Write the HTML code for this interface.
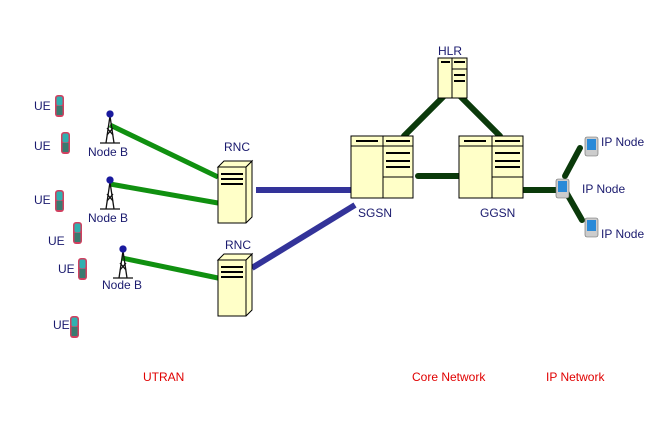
<!DOCTYPE html>
<html><head><style>
body{margin:0;background:#fff}
svg text{font-family:"Liberation Sans",sans-serif;font-size:12px;fill:#1a1a6e}
</style></head><body>
<svg width="653" height="427" viewBox="0 0 653 427" xmlns="http://www.w3.org/2000/svg">
<defs>
<g id="ue"><rect x="0" y="0" width="9" height="22" rx="3" fill="#d04060"/><rect x="1.5" y="1.5" width="6" height="9" rx="2" fill="#30b0b0"/><rect x="1.5" y="11" width="6" height="9" fill="#3a7a70"/></g>
<g id="tower" stroke="#111" fill="none" stroke-width="1.3"><line x1="-4" y1="33" x2="0" y2="6"/><line x1="4" y1="33" x2="0" y2="6"/><line x1="-3" y1="25" x2="3" y2="18"/><line x1="-3" y1="18" x2="3" y2="25"/><line x1="-10" y1="33" x2="10" y2="33"/><circle cx="0" cy="4" r="3" fill="#1a1a9e" stroke="#1a1a9e"/></g>
<g id="rnc"><polygon points="0,8 28,8 34,2 34,58 28,64 0,64" fill="#ffffc8" stroke="#000"/><polygon points="0,8 6,2 34,2 28,8" fill="#ffffc8" stroke="#000"/><line x1="28" y1="8" x2="28" y2="64" stroke="#000"/><rect x="3" y="14" width="22" height="2" fill="#000"/><rect x="3" y="19" width="22" height="2" fill="#000"/><rect x="3" y="24" width="22" height="2" fill="#000"/></g>
<g id="pda"><rect x="0" y="0" width="13" height="19" rx="2" fill="#ccc" stroke="#666" stroke-width=".6"/><rect x="2" y="2" width="9" height="11" fill="#2a8ad8"/></g>
</defs>
<g stroke="#109010" stroke-width="5"><line x1="110" y1="125" x2="218" y2="177"/><line x1="110" y1="184" x2="218" y2="203"/><line x1="122" y1="258" x2="218" y2="278"/></g>
<g stroke="#333399" stroke-width="6"><line x1="256" y1="190" x2="352" y2="190"/><line x1="252" y1="268" x2="355" y2="205"/></g>
<g stroke="#0b3a0b" stroke-width="6" stroke-linecap="round"><line x1="446" y1="94" x2="404" y2="136"/><line x1="458" y1="94" x2="500" y2="136"/><line x1="418" y1="176" x2="461" y2="176"/><line x1="522" y1="190" x2="556" y2="190"/><line x1="565" y1="176" x2="580" y2="148"/><line x1="566" y1="192" x2="582" y2="220"/></g>
<use href="#ue" x="55" y="95"/><use href="#ue" x="61" y="132"/><use href="#ue" x="55" y="190"/><use href="#ue" x="73" y="222"/><use href="#ue" x="78" y="258"/><use href="#ue" x="70" y="316"/>
<text x="34" y="110">UE</text><text x="34" y="150">UE</text><text x="34" y="204">UE</text><text x="48" y="245">UE</text><text x="58" y="273">UE</text><text x="53" y="329">UE</text>
<use href="#tower" x="110" y="110"/><use href="#tower" x="110" y="176"/><use href="#tower" x="123" y="245"/>
<text x="88" y="156">Node B</text><text x="88" y="222">Node B</text><text x="102" y="289">Node B</text>
<use href="#rnc" x="218" y="159"/><use href="#rnc" x="218" y="252"/>
<text x="224" y="151">RNC</text><text x="225" y="249">RNC</text>
<g fill="#ffffc8" stroke="#000">
<rect x="351" y="136" width="62" height="62"/><line x1="383" y1="136" x2="383" y2="198"/><line x1="351" y1="146" x2="413" y2="146"/><line x1="383" y1="177" x2="413" y2="177"/>
<rect x="459" y="136" width="64" height="62"/><line x1="492" y1="136" x2="492" y2="198"/><line x1="459" y1="146" x2="523" y2="146"/><line x1="492" y1="177" x2="523" y2="177"/>
<rect x="438" y="58" width="29" height="40"/><line x1="452" y1="58" x2="452" y2="98"/><line x1="452" y1="69" x2="467" y2="69"/>
</g>
<g fill="#000"><rect x="356" y="140" width="22" height="2"/><rect x="386" y="140" width="24" height="2"/><rect x="386" y="152" width="24" height="2"/><rect x="386" y="160" width="24" height="2"/><rect x="386" y="166" width="24" height="2"/>
<rect x="464" y="140" width="22" height="2"/><rect x="495" y="140" width="25" height="2"/><rect x="495" y="152" width="25" height="2"/><rect x="495" y="160" width="25" height="2"/><rect x="495" y="166" width="25" height="2"/>
<rect x="441" y="61" width="9" height="2"/><rect x="454" y="61" width="11" height="2"/><rect x="454" y="74" width="11" height="2"/><rect x="454" y="80" width="11" height="2"/></g>
<text x="438" y="55">HLR</text><text x="358" y="217">SGSN</text><text x="480" y="217">GGSN</text>
<use href="#pda" x="556" y="179"/><use href="#pda" x="585" y="137"/><use href="#pda" x="585" y="218"/>
<text x="601" y="146">IP Node</text><text x="582" y="193">IP Node</text><text x="601" y="238">IP Node</text>
<g style="fill:#ff0000"><text x="143" y="381" style="fill:#e00000">UTRAN</text><text x="412" y="381" style="fill:#e00000">Core Network</text><text x="546" y="381" style="fill:#e00000">IP Network</text></g>
</svg>
</body></html>
